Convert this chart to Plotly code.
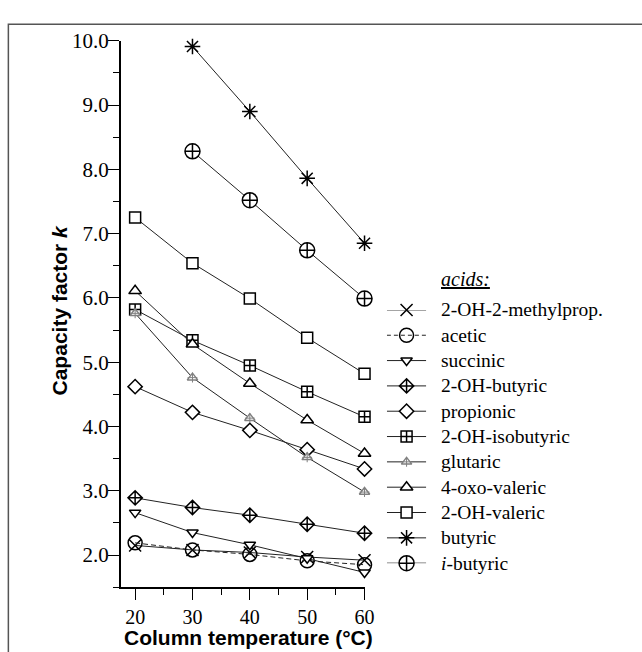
import plotly.graph_objects as go

W, H = 642, 652

temperature = [20, 30, 40, 50, 60]

acid_names = ["2-OH-2-methylprop.", "acetic", "succinic", "2-OH-butyric", "propionic",
              "2-OH-isobutyric", "glutaric", "4-oxo-valeric", "2-OH-valeric", "butyric",
              "<i>i</i>-butyric"]

k_methylprop = [2.15, 2.08, 2.04, 1.97, 1.92]
k_acetic = [2.19, 2.08, 2.01, 1.91, 1.85]
k_succinic = [2.66, 2.35, 2.16, 1.95, 1.73]
k_oh_butyric = [2.89, 2.74, 2.62, 2.48, 2.34]
k_propionic = [4.62, 4.22, 3.94, 3.64, 3.34]
k_oh_isobutyric = [5.82, 5.34, 4.95, 4.54, 4.15]
k_glutaric = [5.76, 4.76, 4.13, 3.52, 2.98]
k_oxo_valeric = [6.11, 5.28, 4.67, 4.10, 3.58]
k_oh_valeric = [7.25, 6.54, 5.99, 5.38, 4.82]
k_butyric = [None, 9.91, 8.90, 7.86, 6.85]
k_i_butyric = [None, 8.28, 7.52, 6.74, 5.99]

series = [k_methylprop, k_acetic, k_succinic, k_oh_butyric, k_propionic, k_oh_isobutyric,
          k_glutaric, k_oxo_valeric, k_oh_valeric, k_butyric, k_i_butyric]

# style per series: symbol, size, fill, edge colour, dash
styles = [
    ("x-thin", 12, "black", "black", "solid"),
    ("circle", 14, "rgba(0,0,0,0)", "black", "dash"),
    ("triangle-down", 10, "white", "black", "solid"),
    ("diamond-cross", 11, "white", "black", "solid"),
    ("diamond", 11, "white", "black", "solid"),
    ("square-cross", 11, "white", "black", "solid"),
    ("triangle-up", 9, "white", "#808080", "solid"),
    ("triangle-up", 11, "white", "black", "solid"),
    ("square", 11, "white", "black", "solid"),
    ("asterisk", 13, "black", "black", "solid"),
    ("circle-cross", 15, "white", "black", "solid"),
]
GLUTARIC = 6

fig = go.Figure()

for idx, (vals, name, (sym, sz, fill, edge, dash)) in enumerate(zip(series, acid_names, styles)):
    fig.add_trace(go.Scatter(
        x=temperature, y=vals, mode="lines+markers", name=name, showlegend=False,
        connectgaps=False, cliponaxis=False,
        line=dict(color="#222", width=1, dash="5px,3px" if dash == "dash" else "solid"),
        marker=dict(symbol=sym, size=sz, color=fill, line=dict(color=edge, width=1.5)),
        xaxis="x", yaxis="y"))
    if idx == GLUTARIC:
        # hatch inside the grey triangle
        fig.add_trace(go.Scatter(
            x=temperature, y=vals, mode="markers", showlegend=False, cliponaxis=False,
            marker=dict(symbol="cross-thin", size=7, color="#808080",
                        line=dict(color="#808080", width=1)),
            xaxis="x", yaxis="y"))

# legend samples drawn on a hidden helper axis
for i, (name, (sym, sz, fill, edge, dash)) in enumerate(zip(acid_names, styles)):
    fig.add_trace(go.Scatter(
        x=[0, 1], y=[i, i], mode="lines", showlegend=False, cliponaxis=False,
        line=dict(color="#222", width=1, dash="4px,3px" if dash == "dash" else "solid"),
        xaxis="x2", yaxis="y2"))
    fig.add_trace(go.Scatter(
        x=[0.5], y=[i], mode="markers", showlegend=False, cliponaxis=False,
        marker=dict(symbol=sym, size=sz, color=fill, line=dict(color=edge, width=1.5)),
        xaxis="x2", yaxis="y2"))
    if i == GLUTARIC:
        fig.add_trace(go.Scatter(
            x=[0.5], y=[i], mode="markers", showlegend=False, cliponaxis=False,
            marker=dict(symbol="cross-thin", size=7, color="#808080",
                        line=dict(color="#808080", width=1)),
            xaxis="x2", yaxis="y2"))
    fig.add_annotation(x=446 / W, xref="paper", y=i, yref="y2", text=name,
                       showarrow=False, xanchor="left", yanchor="middle",
                       font=dict(family="Liberation Serif", size=19.5, color="black"))

fig.add_annotation(x=446 / W, xref="paper", y=1 - 271.7 / H, yref="paper",
                   text="<i><u>acids:</u></i>", showarrow=False, xanchor="left", yanchor="middle",
                   font=dict(family="Liberation Serif", size=20, color="black"))

fig.add_annotation(x=60 / W, xref="paper", y=1 - 304 / H, yref="paper",
                   text="<b>Capacity factor <i>k</i></b>", textangle=-90, showarrow=False,
                   xanchor="center", yanchor="middle",
                   font=dict(family="Liberation Sans", size=21, color="black"))

fig.add_annotation(x=252 / W, xref="paper", y=1 - 637 / H, yref="paper",
                   text="<b>Column temperature (°C)</b>", showarrow=False,
                   xanchor="center", yanchor="middle",
                   font=dict(family="Liberation Sans", size=21, color="black"))

# outer frame
fig.add_shape(type="rect", xref="paper", yref="paper",
              x0=8.5 / W, x1=1.08, y0=-0.08, y1=1 - 12.5 / H,
              line=dict(color="#555", width=1.5), fillcolor="rgba(0,0,0,0)")

axis_common = dict(showline=True, linecolor="black", linewidth=1.5, ticks="outside",
                   tickcolor="black", tickwidth=1.2, ticklen=11, showgrid=False,
                   zeroline=False, color="black")

fig.update_layout(
    width=W, height=H, margin=dict(l=0, r=0, t=0, b=0),
    paper_bgcolor="white", plot_bgcolor="white",
    showlegend=False,
    xaxis=dict(domain=[122.7 / W, 370.3 / W], range=[17.5, 60], tick0=20, dtick=10,
               anchor="y",
               tickfont=dict(family="Liberation Serif", size=20, color="black"),
               minor=dict(ticks="outside", dtick=5, tick0=20, ticklen=6, tickwidth=1.2,
                          tickcolor="black"),
               **axis_common),
    yaxis=dict(domain=[1 - 586 / H, 1 - 29.3 / H], range=[1.5, 10], tick0=0, dtick=1,
               tickformat=".1f", anchor="x", ticklabelstandoff=-5,
               tickfont=dict(family="Liberation Serif", size=21, color="black"),
               minor=dict(ticks="outside", dtick=0.5, tick0=0, ticklen=6, tickwidth=1.2,
                          tickcolor="black"),
               **axis_common),
    xaxis2=dict(domain=[393 / W, 433 / W], range=[0, 1], visible=False, anchor="y2"),
    yaxis2=dict(domain=[1 - 561.5 / H, 1 - 303.5 / H], range=[10, 0], visible=False,
                anchor="x2"),
)

fig.write_html("out.html")
